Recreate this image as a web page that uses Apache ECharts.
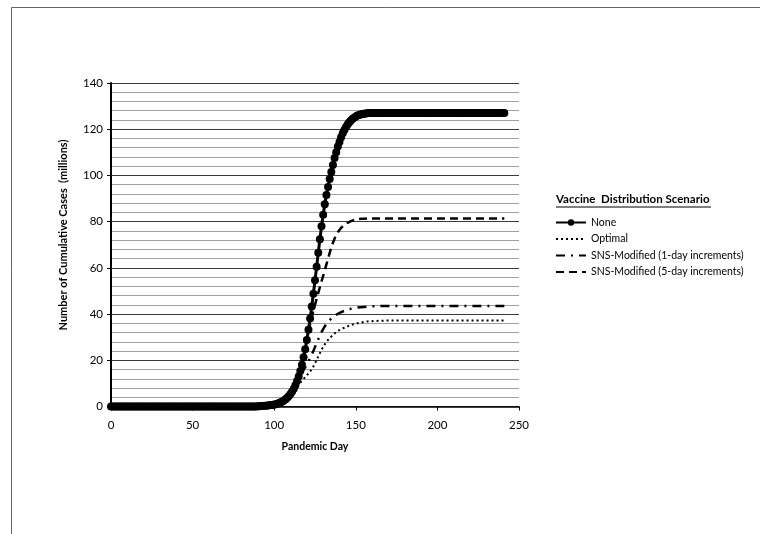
<!DOCTYPE html>
<html>
<head>
<meta charset="utf-8">
<script src="https://cdn.jsdelivr.net/npm/echarts@6/dist/echarts.min.js"></script>
<style>
html,body{margin:0;padding:0;background:#fff;}
#chart{width:760px;height:534px;}
</style>
</head>
<body>
<div id="chart"></div>
<script>
// ---- data ----
// "None" scenario: cumulative cases (millions) for pandemic day 0..241 (index = day)
var noneCases = [
  0,0,0,0,0,0,0,0,0,0,
  0,0,0,0,0,0,0,0,0,0,
  0,0,0,0,0,0,0,0,0,0,
  0,0,0,0,0,0,0,0,0,0,
  0,0,0,0,0,0,0,0,0,0,
  0,0,0,0,0,0,0,0,0,0,
  0,0,0,0,0,0,0,0,0,0,
  0,0,0,0,0,0,0,0,0,0,
  0,0,0,0,0,0,0,0,0,0,
  0.1,0.15,0.2,0.2,0.3,0.3,0.4,0.5,0.6,0.7,
  0.85,1.0,1.2,1.5,1.8,2.2,2.6,3.1,3.8,4.5,
  5.4,6.5,7.7,9.2,11.0,13.0,15.4,18.1,21.3,24.8,
  28.8,33.2,38.1,43.3,48.8,54.6,60.5,66.5,72.4,78.0,
  83.0,87.5,91.5,95.0,98.5,101.5,104.5,107.5,110.0,112.5,
  114.5,116.5,118.2,119.7,121.0,122.0,123.0,123.8,124.5,125.0,
  125.5,125.9,126.2,126.4,126.6,126.7,126.8,126.9,127,127,
  127,127,127,127,127,127,127,127,127,127,
  127,127,127,127,127,127,127,127,127,127,
  127,127,127,127,127,127,127,127,127,127,
  127,127,127,127,127,127,127,127,127,127,
  127,127,127,127,127,127,127,127,127,127,
  127,127,127,127,127,127,127,127,127,127,
  127,127,127,127,127,127,127,127,127,127,
  127,127,127,127,127,127,127,127,127,127,
  127,127
];

// days at which the other scenarios were read
var curveDays = [
  110,111,112,113,114,115,116,117,118,119,
  120,121,122,123,124,125,126,127,128,129,
  130,131,132,133,134,135,136,137,138,139,
  140,141,142,143,144,145,146,147,148,149,
  150,151,152,153,154,155,156,157,158,159,
  160,165,170,175,180,185,190,195,200,205,
  210,215,220,225,230,235,240,241
];

var optimalCases = [
  5.4,6.3,7.1,7.9,8.7,9.5,10.3,11.1,11.9,12.7,
  13.5,14.3,15.1,16.1,17.3,18.7,20.1,21.6,23.1,24.5,
  25.7,26.9,27.9,28.8,29.6,30.3,31.0,31.6,32.2,32.7,
  33.1,33.5,33.8,34.1,34.4,34.7,35.0,35.2,35.5,35.7,
  35.9,36.0,36.2,36.3,36.5,36.6,36.7,36.8,36.9,36.9,
  37.0,37.1,37.2,37.2,37.2,37.2,37.2,37.2,37.2,37.2,
  37.2,37.2,37.2,37.2,37.2,37.2,37.2,37.2
];

var sns1DayCases = [
  5.4,6.5,7.7,9.2,11.0,12.3,13.5,14.7,15.9,17.0,
  18.2,19.5,20.9,22.4,24.0,25.7,27.4,29.1,30.7,32.2,
  33.5,34.7,35.7,36.6,37.4,38.1,38.7,39.2,39.7,40.1,
  40.5,40.8,41.1,41.4,41.7,41.9,42.1,42.3,42.5,42.6,
  42.7,42.8,42.9,43.0,43.1,43.1,43.2,43.2,43.3,43.3,
  43.4,43.5,43.5,43.5,43.5,43.5,43.5,43.5,43.5,43.5,
  43.5,43.5,43.5,43.5,43.5,43.5,43.5,43.5
];

var sns5DayCases = [
  5.4,6.5,7.7,9.2,11.0,13.0,15.4,18.1,21.3,24.8,
  28.8,32.5,35.5,38.5,41.5,44.0,46.7,49.2,51.7,54.1,
  56.5,59.0,61.5,64.0,66.5,68.8,70.9,72.7,74.2,75.4,
  76.4,77.3,78.0,78.6,79.1,79.5,79.9,80.2,80.5,80.7,
  80.9,81.0,81.1,81.2,81.3,81.3,81.4,81.4,81.4,81.4,
  81.4,81.4,81.4,81.4,81.4,81.4,81.4,81.4,81.4,81.4,
  81.4,81.4,81.4,81.4,81.4,81.4,81.4,81.4
];

var seriesNames = ['None', 'Optimal', 'SNS-Modified (1-day increments)', 'SNS-Modified (5-day increments)'];
var legendTitle = 'Vaccine  Distribution Scenario';
var xTitle = 'Pandemic Day';
var yTitle = 'Number of Cumulative Cases  (millions)';

// ---- chart ----
function pairs(days, vals) { return vals.map(function (v, i) { return [days[i], v]; }); }
var noneData = noneCases.map(function (v, i) { return [i, v]; });

var FONT = 'Lato';
var chart = echarts.init(document.getElementById('chart'), null, { renderer: 'canvas' });

chart.setOption({
  animation: false,
  backgroundColor: '#ffffff',
  grid: { left: 111, right: 241, top: 83, bottom: 127.5, containLabel: false },
  xAxis: {
    type: 'value', min: 0, max: 250, interval: 50,
    name: xTitle, nameLocation: 'middle', nameGap: 35,
    nameTextStyle: { fontFamily: FONT, fontWeight: 'bold', fontSize: 10.5, color: '#000' },
    axisLine: { show: true, lineStyle: { color: '#000', width: 1.5 } },
    axisTick: { show: true, length: 4, lineStyle: { color: '#000', width: 1 } },
    axisLabel: { fontFamily: FONT, fontSize: 11.5, color: '#000', margin: 13 },
    splitLine: { show: false }
  },
  yAxis: {
    type: 'value', min: 0, max: 140, interval: 20,
    axisLine: { show: true, lineStyle: { color: '#000', width: 2 } },
    axisTick: { show: true, length: 4, lineStyle: { color: '#000', width: 1 } },
    axisLabel: { fontFamily: FONT, fontSize: 11.5, color: '#000', margin: 8 },
    splitLine: { show: true, lineStyle: { color: '#3a3a3a', width: 1 } },
    minorTick: { show: false, splitNumber: 5 },
    minorSplitLine: { show: true, lineStyle: { color: '#a0a0a0', width: 1 } }
  },
  legend: {
    orient: 'vertical', left: 555, top: 217, padding: 0,
    itemWidth: 30, itemHeight: 8, itemGap: 5.5,
    data: [
      { name: seriesNames[0] },
      { name: seriesNames[1], itemStyle: { opacity: 0 } },
      { name: seriesNames[2], itemStyle: { opacity: 0 } },
      { name: seriesNames[3], itemStyle: { opacity: 0 } }
    ],
    textStyle: { fontFamily: FONT, fontSize: 10.5, color: '#000' }
  },
  graphic: [
    { type: 'line', shape: { x1: 11.5, y1: 7.5, x2: 760, y2: 7.5 }, style: { stroke: '#666', lineWidth: 1 } },
    { type: 'line', shape: { x1: 11.5, y1: 7.5, x2: 11.5, y2: 534 }, style: { stroke: '#666', lineWidth: 1 } },
    { type: 'text', x: 63, y: 235, rotation: Math.PI / 2,
      style: { text: yTitle, font: 'bold 11px Lato', fill: '#000', align: 'center', verticalAlign: 'middle' } },
    { type: 'text', left: 556, top: 193,
      style: { text: legendTitle, font: 'bold 11.5px Lato', fill: '#000' } },
    { type: 'line', shape: { x1: 556, y1: 207, x2: 711, y2: 207 }, style: { stroke: '#000', lineWidth: 1.2 } }
  ],
  series: [
    {
      name: seriesNames[1], type: 'line', data: pairs(curveDays, optimalCases),
      symbol: 'none', z: 2,
      lineStyle: { color: '#000', width: 2, type: [2, 3], cap: 'butt' },
      itemStyle: { color: '#000' }
    },
    {
      name: seriesNames[2], type: 'line', data: pairs(curveDays, sns1DayCases),
      symbol: 'none', z: 2,
      lineStyle: { color: '#000', width: 2.5, type: [9, 6, 2, 6], cap: 'butt' },
      itemStyle: { color: '#000' }
    },
    {
      name: seriesNames[3], type: 'line', data: pairs(curveDays, sns5DayCases),
      symbol: 'none', z: 2,
      lineStyle: { color: '#000', width: 2.5, type: [8, 5], cap: 'butt' },
      itemStyle: { color: '#000' }
    },
    {
      name: seriesNames[0], type: 'line', data: noneData,
      symbol: 'circle', symbolSize: 8, showAllSymbol: true, z: 3,
      lineStyle: { color: '#000', width: 3 },
      itemStyle: { color: '#000' }
    }
  ]
});
</script>
</body>
</html>
